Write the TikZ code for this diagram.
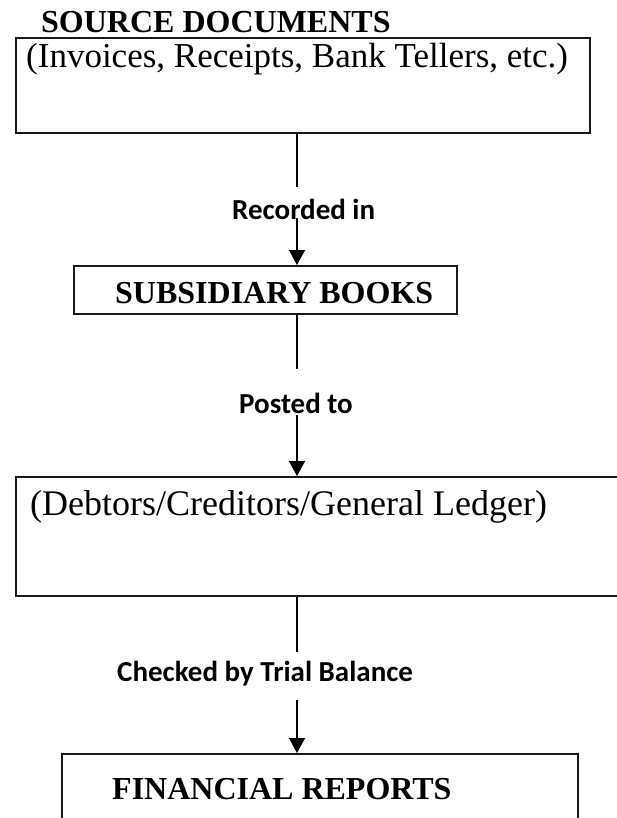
\documentclass[tikz,border=0pt]{standalone}
\usepackage{fontspec}
\setmainfont{Liberation Serif}
\newfontfamily\labelfont{Carlito}
\usetikzlibrary{
  arrows.meta,
  positioning,
  calc
}
\definecolor{fcLine}{HTML}{000000}
\definecolor{fcFrame}{HTML}{1A1A1A}
\tikzset{
  fcbox/.style={draw=fcFrame, line width=2.2pt, inner sep=0pt, anchor=north west},
  fchead/.style={font=\fontsize{32}{36}\selectfont\bfseries, inner sep=0pt, anchor=base west},
  fctext/.style={font=\fontsize{35}{40}\selectfont, inner sep=0pt, anchor=base west},
  fclabel/.style={font=\labelfont\fontsize{29}{32}\selectfont\bfseries, inner sep=0pt, anchor=base west},
  fclink/.style={line width=1.4pt, fcLine},
  fcflow/.style={-{Triangle[length=15pt,width=16pt]}, line width=1.4pt, fcLine}
}
\begin{document}
\begin{tikzpicture}[x=1pt, y=-1pt]
  \useasboundingbox (0,0) rectangle (617,818);
  \clip (0,0) rectangle (617,818);
  % boxes
  \node[fcbox, minimum width=574pt, minimum height=95pt] (src) at (15,37) {};
  \node[fcbox, minimum width=383pt, minimum height=48pt] (sub) at (73,265) {};
  \node[fcbox, minimum width=640pt, minimum height=119pt] (led) at (15,476) {};
  \node[fcbox, minimum width=516pt, minimum height=100pt] (rep) at (61,753) {};
  % texts
  \node[fchead] (srctitle) at (41,33) {SOURCE DOCUMENTS};
  \node[fctext] (srctext) at (26,68) {(Invoices, Receipts, Bank Tellers, etc.)};
  \node[fchead] (subtext) at (115,303) {SUBSIDIARY BOOKS};
  \node[fctext, font=\fontsize{36}{40}\selectfont] (ledtext) at (30,515) {(Debtors/Creditors/General Ledger)};
  \node[fchead] (reptext) at (112,799) {FINANCIAL REPORTS};
  % labels
  \node[fclabel] (rec) at (232,220) {Recorded in};
  \node[fclabel] (post) at (239,413) {Posted to};
  \node[fclabel] (chk) at (117,681) {Checked by Trial Balance};
  % connectors
  \coordinate (l1) at (297,187);
  \coordinate (a1) at (297,218);
  \coordinate (l2) at (297,369);
  \coordinate (a2) at (297,415);
  \coordinate (l3) at (297,652);
  \coordinate (a3) at (297,700);
  \draw[fclink] (src.south -| l1) -- (l1);
  \draw[fcflow] (a1) -- (sub.north -| a1);
  \draw[fclink] (sub.south -| l2) -- (l2);
  \draw[fcflow] (a2) -- (led.north -| a2);
  \draw[fclink] (led.south -| l3) -- (l3);
  \draw[fcflow] (a3) -- (rep.north -| a3);
\end{tikzpicture}
\end{document}
